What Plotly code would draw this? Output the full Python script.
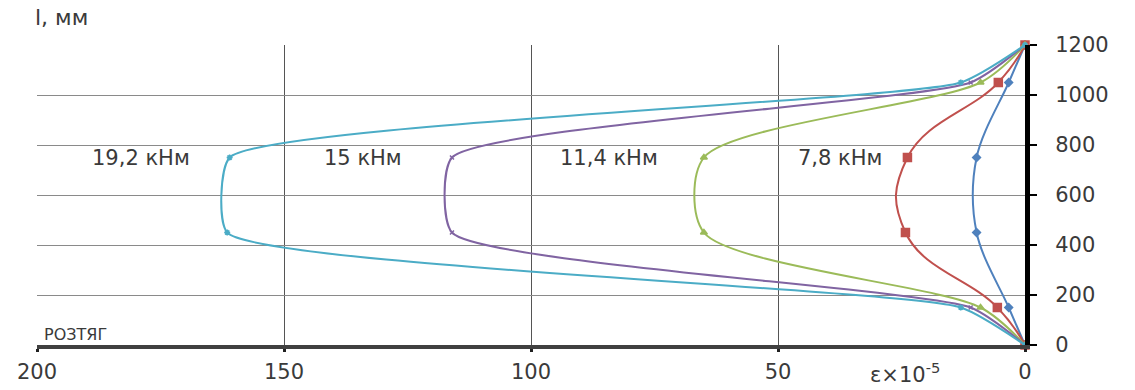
import plotly.graph_objects as go

# Data
lengths = [0, 150, 450, 750, 1050, 1200]          # l, мм
series_names = ["3,6 кНм", "7,8 кНм", "11,4 кНм", "15 кНм", "19,2 кНм"]
eps_s1 = [0, 3.3, 9.8, 9.8, 3.3, 0]
eps_s2 = [0, 5.6, 24.2, 23.8, 5.4, 0]
eps_s3 = [0, 9, 65, 65, 9, 0]
eps_s4 = [0, 11, 116, 116, 11, 0]
eps_s5 = [0, 13, 161.5, 161, 13, 0]
all_eps = [eps_s1, eps_s2, eps_s3, eps_s4, eps_s5]

x_ticks = [200, 150, 100, 50, 0]
y_ticks = [0, 200, 400, 600, 800, 1000, 1200]

# label positions (strain value, length) for moment labels
label_texts = ["19,2 кНм", "15 кНм", "11,4 кНм", "7,8 кНм"]
label_x = [179, 134, 84.3, 37.4]
label_y = [750, 750, 750, 750]

colors = ["#4F81BD", "#C0504D", "#9BBB59", "#8064A2", "#4BACC6"]
symbols = ["diamond", "square", "triangle-up", "x-thin-open", "asterisk-open"]
msizes = [6, 8, 6, 4, 5]
smooth = [1.0, 1.3, 0.8, 0.55, 0.5]

FONT = "DejaVu Sans"
TXT = "#3a3a3a"

fig = go.Figure()
for name, eps, c, s, ms, sm in zip(series_names, all_eps, colors, symbols, msizes, smooth):
    fig.add_trace(go.Scatter(
        x=eps, y=lengths, mode="lines+markers", name=name,
        line=dict(color=c, width=2, shape="spline", smoothing=sm),
        marker=dict(color=c, symbol=s, size=ms, line=dict(color=c, width=1.5)),
        showlegend=False, cliponaxis=False,
    ))

for t, x, y in zip(label_texts, label_x, label_y):
    fig.add_annotation(x=x, y=y, text=t, showarrow=False, xref="x", yref="y",
                       font=dict(family=FONT, size=21, color=TXT))

fig.add_annotation(xref="paper", yref="paper", x=-0.004, y=1.092, text="l, мм",
                   showarrow=False, xanchor="left", yanchor="middle",
                   font=dict(family=FONT, size=22, color=TXT))
fig.add_annotation(xref="paper", yref="paper", x=0.005, y=0.035, text="РОЗТЯГ",
                   showarrow=False, xanchor="left", yanchor="middle",
                   font=dict(family=FONT, size=16, color=TXT))
fig.add_annotation(xref="paper", yref="paper", x=0.8785, y=-0.093,
                   text="ε×10<sup>-5</sup>",
                   showarrow=False, xanchor="center", yanchor="middle",
                   font=dict(family=FONT, size=21, color=TXT))

fig.update_layout(
    width=1135, height=390,
    margin=dict(l=37, r=110, t=45, b=45, autoexpand=False),
    paper_bgcolor="white", plot_bgcolor="white",
    font=dict(family=FONT, color=TXT),
    xaxis=dict(
        range=[200, 0], tickvals=x_ticks, ticktext=[str(v) for v in x_ticks],
        showgrid=True, gridcolor="#555555", gridwidth=1.2,
        zeroline=False, showline=True, linecolor="#404040", linewidth=4,
        ticks="outside", ticklen=3, tickwidth=3, tickcolor="#202020",
        tickfont=dict(family=FONT, size=21, color=TXT),
        ticklabelstandoff=2, automargin=False,
    ),
    yaxis=dict(
        range=[0, 1200], tickvals=y_ticks, side="right",
        showgrid=True, gridcolor="#8a8a8a", gridwidth=1,
        zeroline=False, showline=True, linecolor="#000000", linewidth=5,
        ticks="outside", ticklen=7, tickwidth=2, tickcolor="#000000",
        tickfont=dict(family=FONT, size=21, color=TXT),
        ticklabelstandoff=14, automargin=False,
    ),
)

fig.write_html("out.html")
